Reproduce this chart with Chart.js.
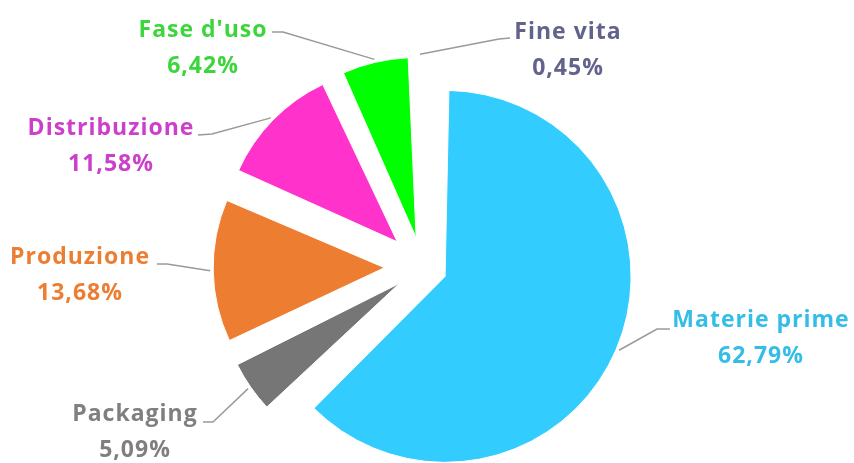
<!DOCTYPE html>
<html>
<head>
<meta charset="utf-8">
<script src="https://cdn.jsdelivr.net/npm/chart.js@4"></script>
<style>
  html, body { margin: 0; padding: 0; background: #fff; }
  #wrap { width: 854px; height: 463px; position: relative; }
</style>
</head>
<body>
<div id="wrap"><canvas id="torta"></canvas></div>
<script>
const categories = ["Materie prime", "Packaging", "Produzione", "Distribuzione", "Fase d'uso", "Fine vita"];
const percentages = [62.79, 5.09, 13.68, 11.58, 6.42, 0.45];
const valueLabels = ["62,79%", "5,09%", "13,68%", "11,58%", "6,42%", "0,45%"];

const sliceColors = ["#33ccff", "#767676", "#ed7d31", "#ff33cc", "#00ff00", "#f6f6fb"];
const textColors = ["#35bde8", "#7f7f7f", "#ed7d31", "#cc3fcc", "#3cd63c", "#62628a"];
// exploded slices (chart.js moves an arc by offset/4)
const sliceOffsets = [96, 114, 154, 144, 120, 97];

// text centre, elbow and end of leader line for each label
const labelLayout = [
  { x: 761, y: 320, elbow: [657, 329], end: [670, 329] },
  { x: 135, y: 414, elbow: [213, 422], end: [203, 422] },
  { x: 80,  y: 257, elbow: [167, 264], end: [157, 264] },
  { x: 111, y: 128, elbow: [212, 134], end: [198, 135] },
  { x: 203, y: 30,  elbow: [283, 32],  end: [272, 32] },
  { x: 568, y: 32,  elbow: [499, 39],  end: [510, 38] },
];

const leaderLabels = {
  id: "leaderLabels",
  afterDatasetsDraw(chart) {
    const ctx = chart.ctx;
    const arcs = chart.getDatasetMeta(0).data;
    ctx.save();
    arcs.forEach((arc, i) => {
      const half = (arc.startAngle + arc.endAngle) / 2;
      const shift = (arc.options.offset || 0) / 4;
      const circ = arc.endAngle - arc.startAngle;
      const fix = 1 - Math.sin(Math.min(Math.PI, circ));
      const reach = shift + arc.outerRadius + shift * fix + 3;
      const ax = arc.x + Math.cos(half) * reach;
      const ay = arc.y + Math.sin(half) * reach;
      const lay = labelLayout[i];

      ctx.strokeStyle = "#9a9a9a";
      ctx.lineWidth = 1.5;
      ctx.beginPath();
      ctx.moveTo(ax, ay);
      ctx.lineTo(lay.elbow[0], lay.elbow[1]);
      ctx.lineTo(lay.end[0], lay.end[1]);
      ctx.stroke();

      ctx.fillStyle = textColors[i];
      ctx.font = "bold 23px 'Open Sans'";
      ctx.letterSpacing = "1px";
      ctx.textAlign = "center";
      ctx.textBaseline = "middle";
      ctx.fillText(categories[i], lay.x, lay.y);
      ctx.fillText(valueLabels[i], lay.x, lay.y + 36);
    });
    ctx.restore();
  },
};

new Chart(document.getElementById("torta"), {
  type: "pie",
  data: {
    labels: categories,
    datasets: [{
      data: percentages,
      backgroundColor: sliceColors,
      borderColor: "#ffffff",
      borderWidth: 1,
      offset: sliceOffsets,
      hoverOffset: 0,
    }],
  },
  options: {
    responsive: true,
    maintainAspectRatio: false,
    animation: false,
    radius: 162,
    layout: { padding: { left: 0, right: 8, top: 71, bottom: 0 } },
    plugins: { legend: { display: false }, tooltip: { enabled: false } },
  },
  plugins: [leaderLabels],
});
</script>
</body>
</html>
